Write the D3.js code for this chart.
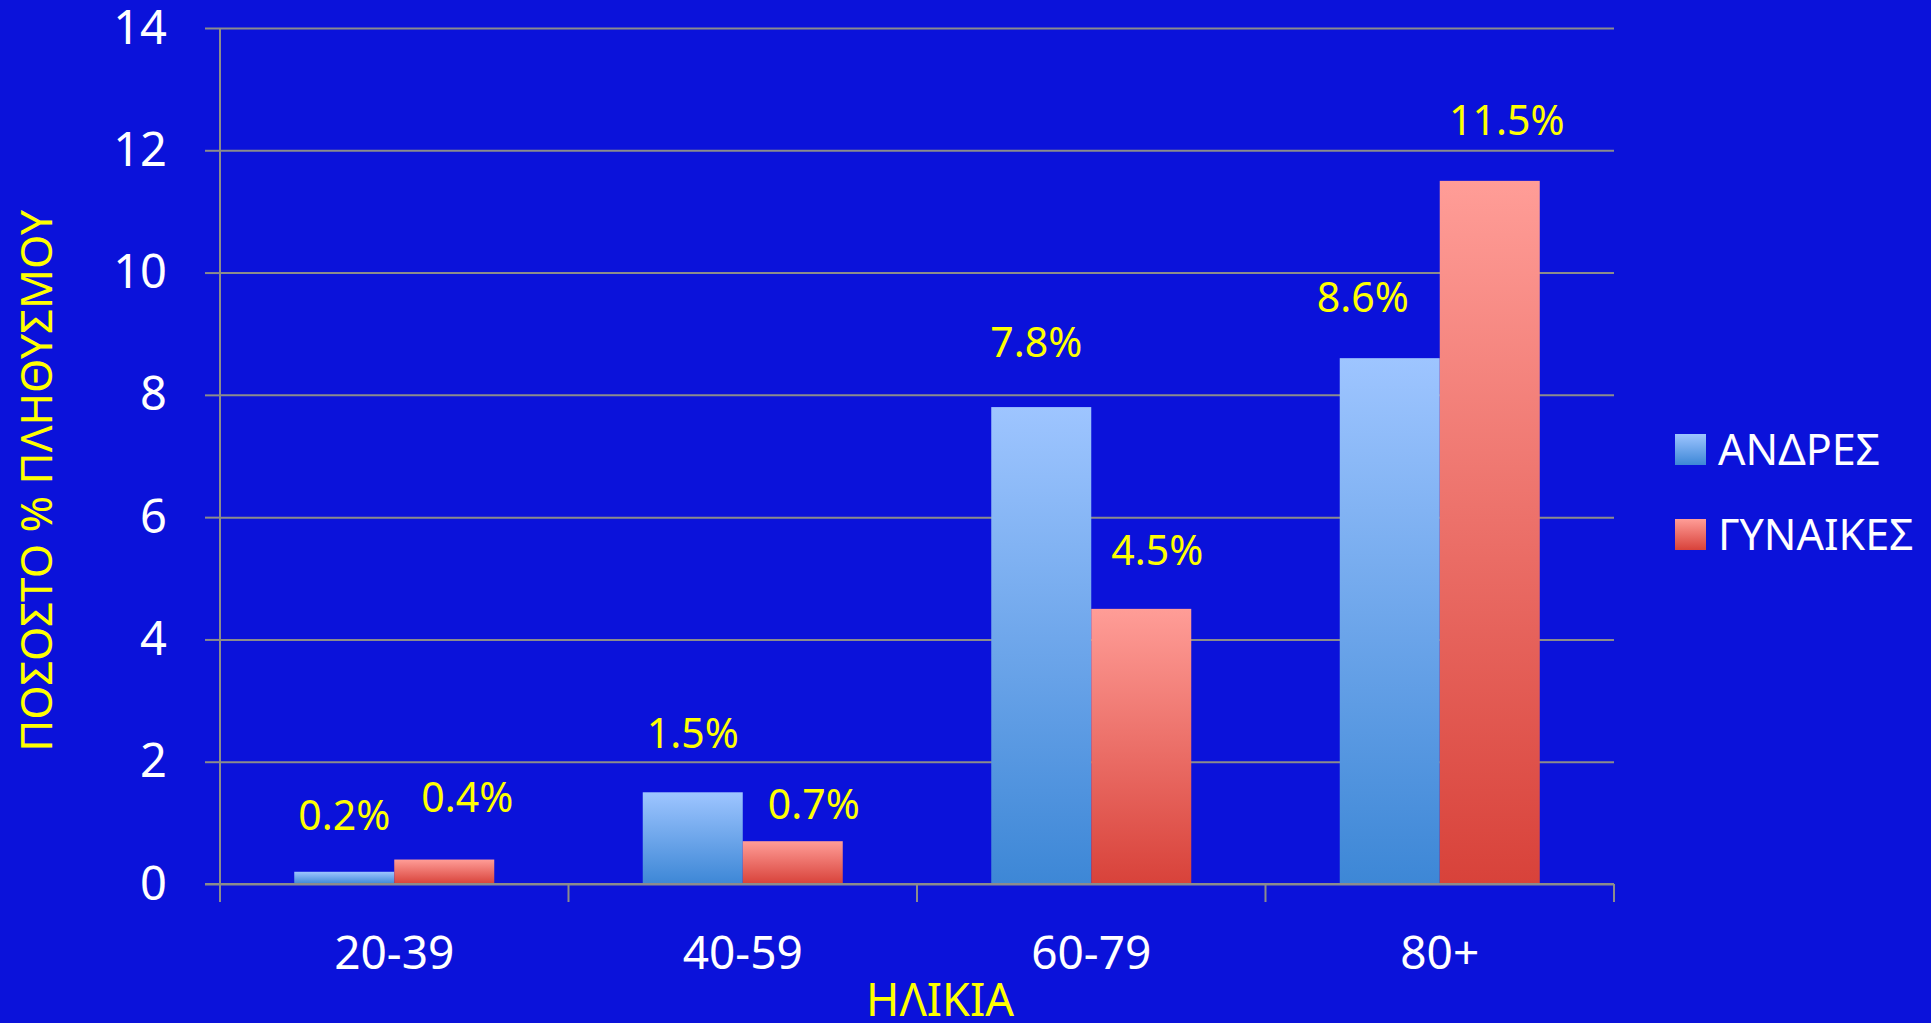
<!DOCTYPE html>
<html>
<head>
<meta charset="utf-8">
<script src="https://cdn.jsdelivr.net/npm/d3@7"></script>
<style>
  html, body { margin: 0; padding: 0; background: #0B12DA; overflow: hidden; }
  svg { display: block; font-family: "Noto Sans", "Open Sans", sans-serif; }
</style>
</head>
<body>
<svg id="chart" width="1931" height="1023"></svg>
<script>
// ---- data ----
const categories = ["20-39", "40-59", "60-79", "80+"];
const seriesNames = ["ΑΝΔΡΕΣ", "ΓΥΝΑΙΚΕΣ"];
const men   = [0.2, 1.5, 7.8, 8.6];
const women = [0.4, 0.7, 4.5, 11.5];
const menLabels   = ["0.2%", "1.5%", "7.8%", "8.6%"];
const womenLabels = ["0.4%", "0.7%", "4.5%", "11.5%"];
const yTicks = [0, 2, 4, 6, 8, 10, 12, 14];
const yTitle = "ΠΟΣΟΣΤΟ % ΠΛΗΘΥΣΜΟΥ";
const xTitle = "ΗΛΙΚΙΑ";

// ---- layout (label nudges in px, per series) ----
const menLabelDx   = [0, 0, -5, -27];
const menLabelDy   = [2, 0, -6, -2];
const womenLabelDx = [23, 21, 16, 17];
const womenLabelDy = [-4, 22, 0, -2];

const W = 1931, H = 1023;
const plot = { left: 220, right: 1614, top: 28, bottom: 884 };
const gridColor = "#8C8C8C";
const yellow = "#FFFF00";

const svg = d3.select("#chart");
svg.append("rect").attr("width", W).attr("height", H).attr("fill", "#0B12DA");

const defs = svg.append("defs");
const gradBlue = defs.append("linearGradient").attr("id", "gBlue")
  .attr("x1", 0).attr("y1", 0).attr("x2", 0).attr("y2", 1);
gradBlue.append("stop").attr("offset", "0%").attr("stop-color", "#9EC5FF");
gradBlue.append("stop").attr("offset", "100%").attr("stop-color", "#3D87D6");
const gradRed = defs.append("linearGradient").attr("id", "gRed")
  .attr("x1", 0).attr("y1", 0).attr("x2", 0).attr("y2", 1);
gradRed.append("stop").attr("offset", "0%").attr("stop-color", "#FF9D97");
gradRed.append("stop").attr("offset", "100%").attr("stop-color", "#D8423A");
const fills = ["url(#gBlue)", "url(#gRed)"];

const x0 = d3.scaleBand().domain(categories).range([plot.left, plot.right]).paddingInner(0).paddingOuter(0);
const x1 = d3.scaleBand().domain(seriesNames).range([0, x0.bandwidth()]).paddingInner(0).paddingOuter(0.7425);
const y = d3.scaleLinear().domain([0, 14]).range([plot.bottom, plot.top]);

// gridlines
const grid = svg.append("g")
  .attr("transform", `translate(${plot.left},0)`)
  .call(d3.axisRight(y).tickValues(yTicks).tickSize(plot.right - plot.left).tickFormat(""));
grid.select(".domain").remove();
grid.selectAll("line").attr("stroke", gridColor).attr("stroke-width", 2);

// y axis
const yAxis = svg.append("g")
  .attr("transform", `translate(${plot.left},0)`)
  .call(d3.axisLeft(y).tickValues(yTicks).tickSize(15).tickPadding(38).tickFormat(d3.format("d")));
yAxis.select(".domain").attr("stroke", gridColor).attr("stroke-width", 2)
  .attr("d", `M0,${plot.top}V${plot.bottom + 18}`);
yAxis.selectAll("line").attr("stroke", gridColor).attr("stroke-width", 2);
yAxis.selectAll("text").attr("fill", "#FFFFFF").attr("font-size", 47)
  .attr("font-family", "Noto Sans, sans-serif");

// bars
const rows = categories.map((c, i) => ({
  cat: c,
  vals: [men[i], women[i]],
  labels: [menLabels[i], womenLabels[i]],
  dx: [menLabelDx[i], womenLabelDx[i]],
  dy: [menLabelDy[i], womenLabelDy[i]]
}));
const groups = svg.append("g").selectAll("g").data(rows).join("g")
  .attr("transform", d => `translate(${x0(d.cat)},0)`);
groups.selectAll("rect")
  .data(d => d.vals.map((v, j) => ({ v, j, s: seriesNames[j] })))
  .join("rect")
  .attr("x", d => x1(d.s))
  .attr("y", d => y(d.v))
  .attr("width", x1.bandwidth())
  .attr("height", d => y(0) - y(d.v))
  .attr("fill", d => fills[d.j]);

// x axis baseline & ticks
const xAxis = svg.append("g").attr("transform", `translate(0,${plot.bottom})`)
  .call(d3.axisBottom(x0).tickSize(0).tickPadding(52));
xAxis.select(".domain").attr("stroke", gridColor).attr("stroke-width", 2)
  .attr("d", `M${plot.left - 15},0H${plot.right}`);
xAxis.selectAll("text").attr("fill", "#FFFFFF").attr("font-size", 46)
  .attr("font-family", "Noto Sans, sans-serif");
const boundaries = categories.map(c => x0(c)).concat([x0.range()[1]]);
svg.append("g").selectAll("line").data(boundaries).join("line")
  .attr("x1", d => d).attr("x2", d => d)
  .attr("y1", plot.bottom).attr("y2", plot.bottom + 18)
  .attr("stroke", gridColor).attr("stroke-width", 2);

// data labels
groups.selectAll("text.lbl")
  .data(d => d.vals.map((v, j) => ({ v, j, s: seriesNames[j], t: d.labels[j], dx: d.dx[j], dy: d.dy[j] })))
  .join("text").attr("class", "lbl")
  .attr("x", d => x1(d.s) + x1.bandwidth() / 2 + d.dx)
  .attr("y", d => y(d.v) - 44 + d.dy)
  .attr("text-anchor", "middle")
  .attr("fill", yellow)
  .attr("font-size", 41)
  .text(d => d.t);

// axis titles
svg.append("text")
  .attr("transform", `translate(52,${(plot.top + plot.bottom) / 2 + 25}) rotate(-90)`)
  .attr("text-anchor", "middle").attr("fill", yellow).attr("font-size", 44)
  .text(yTitle);
svg.append("text")
  .attr("x", (plot.left + plot.right) / 2 + 23).attr("y", 1016)
  .attr("text-anchor", "middle").attr("fill", yellow).attr("font-size", 45)
  .text(xTitle);

// legend
const legend = svg.append("g").attr("transform", "translate(1675,434)");
const li = legend.selectAll("g").data(seriesNames).join("g")
  .attr("transform", (d, i) => `translate(0,${i * 85})`);
li.append("rect").attr("width", 31).attr("height", 31).attr("fill", (d, i) => fills[i]);
li.append("text").attr("x", 43).attr("y", 31).attr("fill", "#FFFFFF").attr("font-size", 43)
  .text(d => d);
</script>
</body>
</html>
